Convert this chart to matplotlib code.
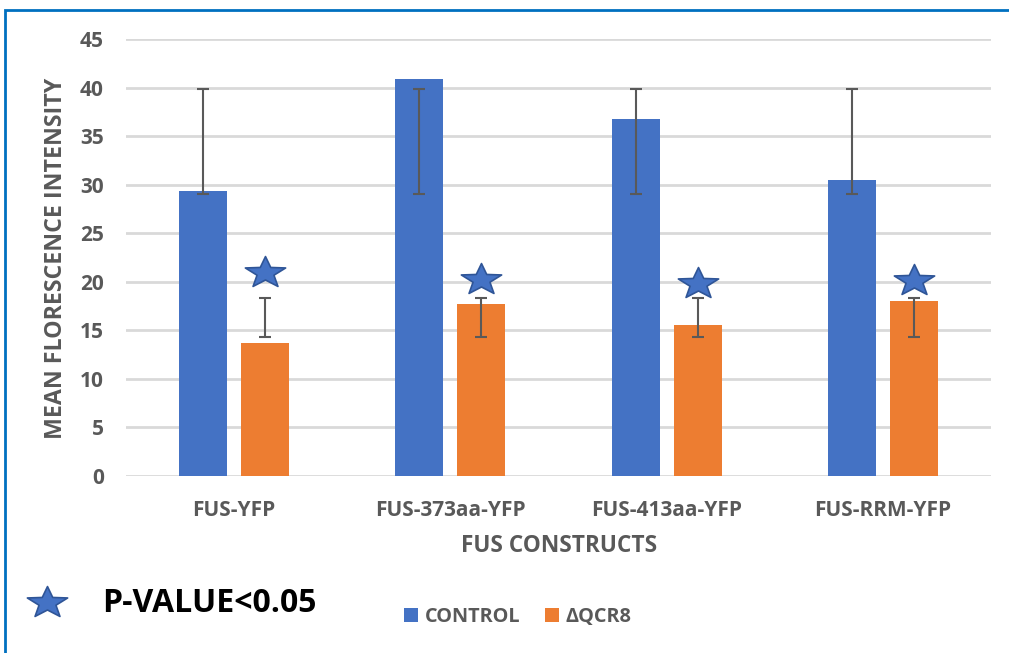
import matplotlib
matplotlib.use("Agg")
import matplotlib.pyplot as plt
import matplotlib.path as mpath
import matplotlib.patches as mpatches
import numpy as np

# ---- data ----
categories = ["FUS-YFP", "FUS-373aa-YFP", "FUS-413aa-YFP", "FUS-RRM-YFP"]
series_names = ["CONTROL", "\u0394QCR8"]
control = [29.35, 40.9, 36.8, 30.5]
qcr8 = [13.7, 17.7, 15.6, 18.0]
control_err_low = [29.0, 29.0, 29.0, 29.0]
control_err_high = [39.9, 39.9, 39.9, 39.9]
qcr8_err_low = [14.3, 14.3, 14.3, 14.3]
qcr8_err_high = [18.3, 18.3, 18.3, 18.3]
star_y = [21.15, 20.4, 20.0, 20.3]
yticks = [0, 5, 10, 15, 20, 25, 30, 35, 40, 45]

BLUE = "#4472C4"
ORANGE = "#ED7D31"
GRAY = "#595959"
GRID = "#D9D9D9"
FONT = "Open Sans"

W, H = 1009, 653
fig = plt.figure(figsize=(W / 100, H / 100), dpi=100)

def px(x0, y0, x1, y1):
    return [x0 / W, 1 - y1 / H, (x1 - x0) / W, (y1 - y0) / H]

ax = fig.add_axes(px(126, 39, 991, 476))

x = np.arange(len(categories))
bw = 0.222
off = 0.143
ax.bar(x - off, control, bw, color=BLUE, zorder=3, label=series_names[0])
ax.bar(x + off, qcr8, bw, color=ORANGE, zorder=3, label=series_names[1])

def err(xpos, lo, hi):
    lo = np.array(lo); hi = np.array(hi)
    mid = (lo + hi) / 2
    half = (hi - lo) / 2
    ax.errorbar(xpos, mid, yerr=half, fmt="none", ecolor=GRAY, elinewidth=1.5,
                capsize=4.5, capthick=1.5, zorder=4)

err(x - off, control_err_low, control_err_high)
err(x + off, qcr8_err_low, qcr8_err_high)

# star marker (flattened 5-point star, bbox centered)
n = 5
R, r = 1.0, 0.42
ang = np.pi / 2 + np.arange(2 * n) * np.pi / n
rad = np.where(np.arange(2 * n) % 2 == 0, R, r)
vx = rad * np.cos(ang)
vy = rad * np.sin(ang) * 0.78
vx = vx - (vx.max() + vx.min()) / 2
vy = vy - (vy.max() + vy.min()) / 2
verts = np.column_stack([np.append(vx, vx[0]), np.append(vy, vy[0])])
codes = [mpath.Path.MOVETO] + [mpath.Path.LINETO] * (2 * n - 1) + [mpath.Path.CLOSEPOLY]
star = mpath.Path(verts, codes)

ax.plot(x + off, star_y, linestyle="none", marker=star, markersize=29,
        markerfacecolor=BLUE, markeredgecolor="#2F5597", markeredgewidth=1.2,
        zorder=5, clip_on=False)

ax.set_xlim(-0.5, len(categories) - 0.5)
ax.set_ylim(0, 45)
ax.set_yticks(yticks)
ax.set_xticks(x)
ax.set_xticklabels(categories)
ax.yaxis.grid(True, color=GRID, linewidth=2, zorder=0)
ax.set_axisbelow(True)
for s in ax.spines.values():
    s.set_visible(False)
ax.tick_params(axis="both", length=0, colors=GRAY, labelsize=15)
ax.tick_params(axis="y", pad=16)
ax.tick_params(axis="x", pad=17)
for lab in ax.get_xticklabels() + ax.get_yticklabels():
    lab.set_fontfamily(FONT)
    lab.set_fontweight("bold")
    lab.set_color(GRAY)

fig.text(56 / W, 1 - 258 / H, "MEAN FLORESCENCE INTENSITY", rotation=90,
         ha="center", va="center", fontsize=16.7, fontweight="bold",
         color=GRAY, family=FONT)
fig.text(559 / W, 1 - 546 / H, "FUS CONSTRUCTS", ha="center", va="center",
         fontsize=16.3, fontweight="bold", color=GRAY, family=FONT)

# p-value note
fig.lines.append(plt.Line2D([46.5 / W], [1 - 600.5 / H], transform=fig.transFigure,
                            linestyle="none", marker=star, markersize=29,
                            markerfacecolor=BLUE, markeredgecolor="#2F5597",
                            markeredgewidth=1.2))
fig.text(102 / W, 1 - 604 / H, "P-VALUE<0.05", ha="left", va="center",
         fontsize=23, fontweight="bold", color="black", family=FONT)

# legend
handles, labels = ax.get_legend_handles_labels()
leg = fig.legend(handles, labels, loc="center", bbox_to_anchor=(518 / W, 1 - 617 / H),
                 ncol=2, frameon=False, handlelength=0.7, handleheight=0.7,
                 handletextpad=0.35, columnspacing=1.2,
                 prop={"family": FONT, "weight": "bold", "size": 14.3})
for t in leg.get_texts():
    t.set_color(GRAY)

# border (top and left visible)
fig.patches.append(mpatches.Rectangle((5 / W, -0.1), 1.2, (1 - 10 / H) + 0.1,
                                      transform=fig.transFigure, fill=False,
                                      edgecolor="#0070C0", linewidth=2))

fig.savefig("out.png", dpi=100)
